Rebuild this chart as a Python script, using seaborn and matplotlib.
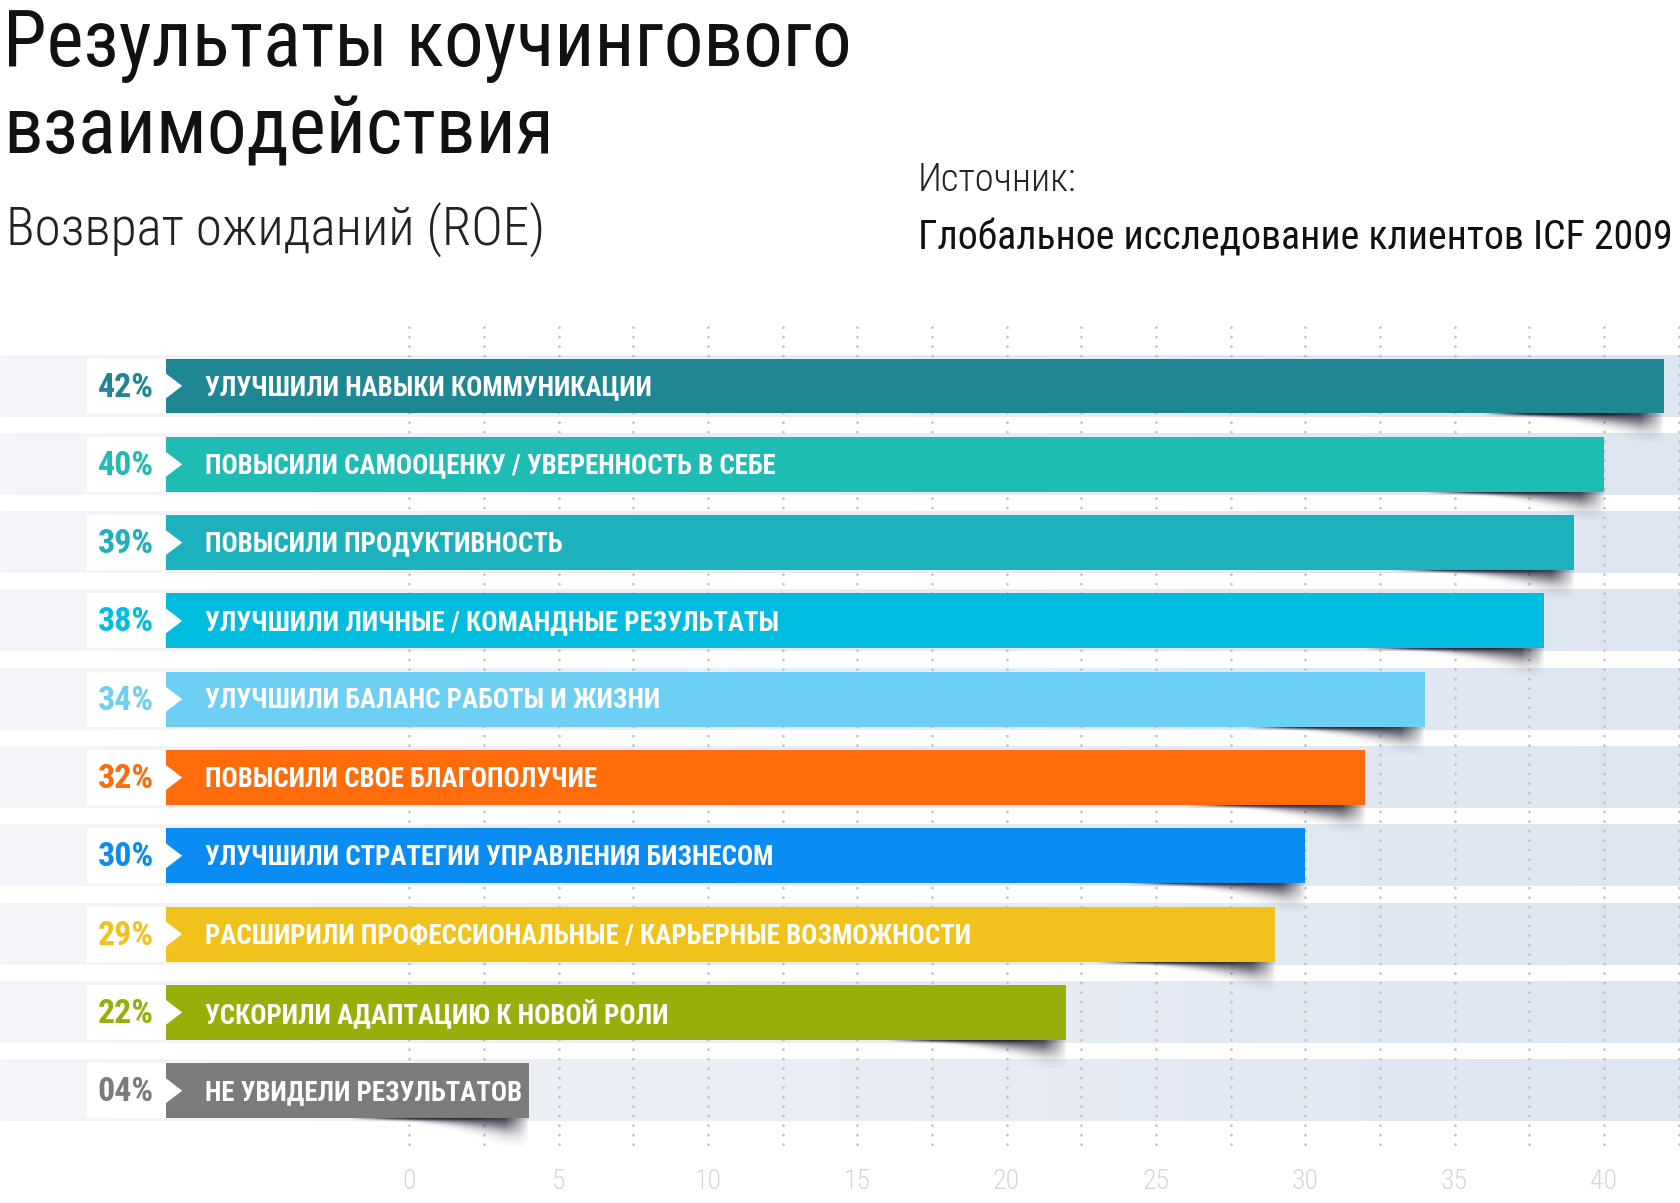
import numpy as np
import pandas as pd
import seaborn as sns
import matplotlib.pyplot as plt
from matplotlib import font_manager
from matplotlib.colors import LinearSegmentedColormap

# data
labels = [
    'УЛУЧШИЛИ НАВЫКИ КОММУНИКАЦИИ',
    'ПОВЫСИЛИ САМООЦЕНКУ / УВЕРЕННОСТЬ В СЕБЕ',
    'ПОВЫСИЛИ ПРОДУКТИВНОСТЬ',
    'УЛУЧШИЛИ ЛИЧНЫЕ / КОМАНДНЫЕ РЕЗУЛЬТАТЫ',
    'УЛУЧШИЛИ БАЛАНС РАБОТЫ И ЖИЗНИ',
    'ПОВЫСИЛИ СВОЕ БЛАГОПОЛУЧИЕ',
    'УЛУЧШИЛИ СТРАТЕГИИ УПРАВЛЕНИЯ БИЗНЕСОМ',
    'РАСШИРИЛИ ПРОФЕССИОНАЛЬНЫЕ / КАРЬЕРНЫЕ ВОЗМОЖНОСТИ',
    'УСКОРИЛИ АДАПТАЦИЮ К НОВОЙ РОЛИ',
    'НЕ УВИДЕЛИ РЕЗУЛЬТАТОВ',
]
values = [42, 40, 39, 38, 34, 32, 30, 29, 22, 4]
pct_labels = ['42%', '40%', '39%', '38%', '34%', '32%', '30%', '29%', '22%', '04%']
colors = ['#1e8793', '#1fbcb3', '#1cb1bc', '#00bde0', '#6dcff3',
          '#ff6c0c', '#0a8cf3', '#f1c21b', '#97ae0b', '#7b7b7b']
xticks = [0, 5, 10, 15, 20, 25, 30, 35, 40]

title_1 = 'Результаты коучингового'
title_2 = 'взаимодействия'
subtitle = 'Возврат ожиданий (ROE)'
source_head = 'Источник:'
source = 'Глобальное исследование клиентов ICF 2009'

# try to find a narrow font, the original uses a condensed DIN-like face
installed = {f.name for f in font_manager.fontManager.ttflist}
narrow = next((c for c in ['Roboto Condensed', 'Noto Sans Condensed',
                           'Liberation Sans Narrow', 'Open Sans Condensed',
                           'DejaVu Sans'] if c in installed), 'DejaVu Sans')

sns.set_theme(style='white')
plt.rcParams['font.family'] = [narrow, 'DejaVu Sans']
plt.rcParams['font.stretch'] = 'condensed'

W, H = 1680, 1203
fig = plt.figure(figsize=(W / 100, H / 100), dpi=100)
ax = fig.add_axes([0, 1 - 1160 / H, 1, 860 / H])

df = pd.DataFrame({'label': labels, 'value': values})
ys = np.arange(len(labels))
bar_h = 0.70
bar_start = -8.15
x_min, x_max = -13.7, 42.55

# gray background bands with a light gradient
band_cmap = LinearSegmentedColormap.from_list('band', ['#f4f5f9', '#e9edf5', '#dde5f1'])
grad = np.linspace(0, 1, 256).reshape(1, -1)
for y in ys:
    ax.imshow(grad, cmap=band_cmap, extent=(x_min, x_max, y + 0.39, y - 0.39),
              aspect='auto', zorder=0, interpolation='bicubic')

# dotted grid every 2.5
grid = ax.vlines(np.arange(0, 45, 2.5), -0.75, 9.7, colors='#c0c0c0',
                 linestyles=(0, (0.1, 3.5)), linewidth=1.9, zorder=1)
grid.set_capstyle('round')

# white boxes for the percentages
ax.barh(ys, width=bar_start + 10.8, left=-10.8, height=bar_h, color='white',
        linewidth=0, zorder=2)

# soft curled shadow under the right end of each bar (alpha image)
sh_len, sh_depth = 6.0, 0.36
xr = np.linspace(0, sh_len, 300)          # distance from shadow start
d = np.linspace(0, sh_depth, 80)[:, None]  # distance below bar bottom
th = 0.015 + 0.23 * (xr / sh_len) ** 2.2
fade_in = np.clip(xr / (0.35 * sh_len), 0, 1)
fade_out = np.clip((sh_len - xr) / 0.8, 0, 1) ** 0.8
lobe = 0.75 * fade_in * fade_out * np.exp(-(d / th) ** 2)
core_mask = np.clip(xr / (0.25 * sh_len), 0, 1) * np.clip((0.9 * sh_len - xr) / 1.2, 0, 1)
core = 0.9 * core_mask * np.exp(-(d / 0.03) ** 2)
alpha = 1 - (1 - lobe) * (1 - core)
shadow_rgba = np.zeros(alpha.shape + (4,))
shadow_rgba[..., :3] = np.array([0x14, 0x14, 0x26]) / 255
shadow_rgba[..., 3] = alpha
for v, y in zip(values, ys):
    bottom = y + bar_h / 2
    ax.imshow(shadow_rgba, extent=(v - sh_len, v, bottom + sh_depth, bottom),
              origin='upper', aspect='auto', zorder=3, interpolation='bilinear')

# bars: seaborn draws 0..value, the part left of zero is added below it
ax.barh(ys, width=-bar_start + 1, left=bar_start, height=bar_h, color=colors,
        linewidth=0, zorder=3.9)
sns.barplot(data=df, x='value', y='label', hue='label', palette=colors,
            legend=False, width=bar_h, saturation=1, linewidth=0, ax=ax, zorder=4)

# white chevrons
for y in ys:
    ax.fill([bar_start, bar_start + 0.55, bar_start], [y - 0.16, y, y + 0.16],
            color='white', linewidth=0, zorder=5)

fig.canvas.draw()
renderer = fig.canvas.get_renderer()


def fit_width(txt, target):
    w = txt.get_window_extent(renderer).width
    txt.set_fontsize(txt.get_fontsize() * target / w)
    return txt.get_fontsize()


# bar texts
pct_texts = []
name_texts = []
for y, v, p, lab, c in zip(ys, values, pct_labels, labels, colors):
    pct_texts.append(ax.text(-8.55, y + 0.02, p, ha='right', va='center', color=c,
                             fontsize=22, fontweight='bold', zorder=7))
    name_texts.append(ax.text(-6.85, y + 0.02, lab, ha='left', va='center', color='white',
                              fontsize=20, fontweight='bold', zorder=7))
fs_pct = fit_width(pct_texts[0], 56)
fs_name = fit_width(name_texts[0], 448)
for tx in pct_texts:
    tx.set_fontsize(fs_pct)
for tx in name_texts:
    tx.set_fontsize(fs_name)

# axes cosmetics
ax.set_xlim(x_min, x_max)
ax.set_ylim(9.885, -1.098)
ax.set_xticks(xticks)
ax.set_xticklabels([str(x) for x in xticks])
ax.set_yticks([])
ax.set_xlabel('')
ax.set_ylabel('')
ax.tick_params(axis='x', length=0, pad=6, labelsize=20, labelcolor='#d6d6d6')
for lab in ax.get_xticklabels():
    lab.set_fontweight('light')
for s in ax.spines.values():
    s.set_visible(False)
ax.set_facecolor('white')


# titles
def ftext(x, y, s, color='#111111', **kw):
    return fig.text(x / W, 1 - y / H, s, va='baseline', ha='left', color=color, **kw)


t1 = ftext(3, 66, title_1, fontsize=60, fontweight='normal')
fit_width(t1, 850)
t2 = ftext(3, 153, title_2, fontsize=t1.get_fontsize(), fontweight='normal')
t3 = ftext(6, 246, subtitle, fontsize=44, fontweight='light', color='#222222')
fit_width(t3, 538)
t4 = ftext(918, 191, source_head, fontsize=32, fontweight='light', color='#222222')
fit_width(t4, 159)
t5 = ftext(918, 250, source, fontsize=32, fontweight='normal')
fit_width(t5, 758)

fig.savefig('out.png', dpi=100, facecolor='white')
